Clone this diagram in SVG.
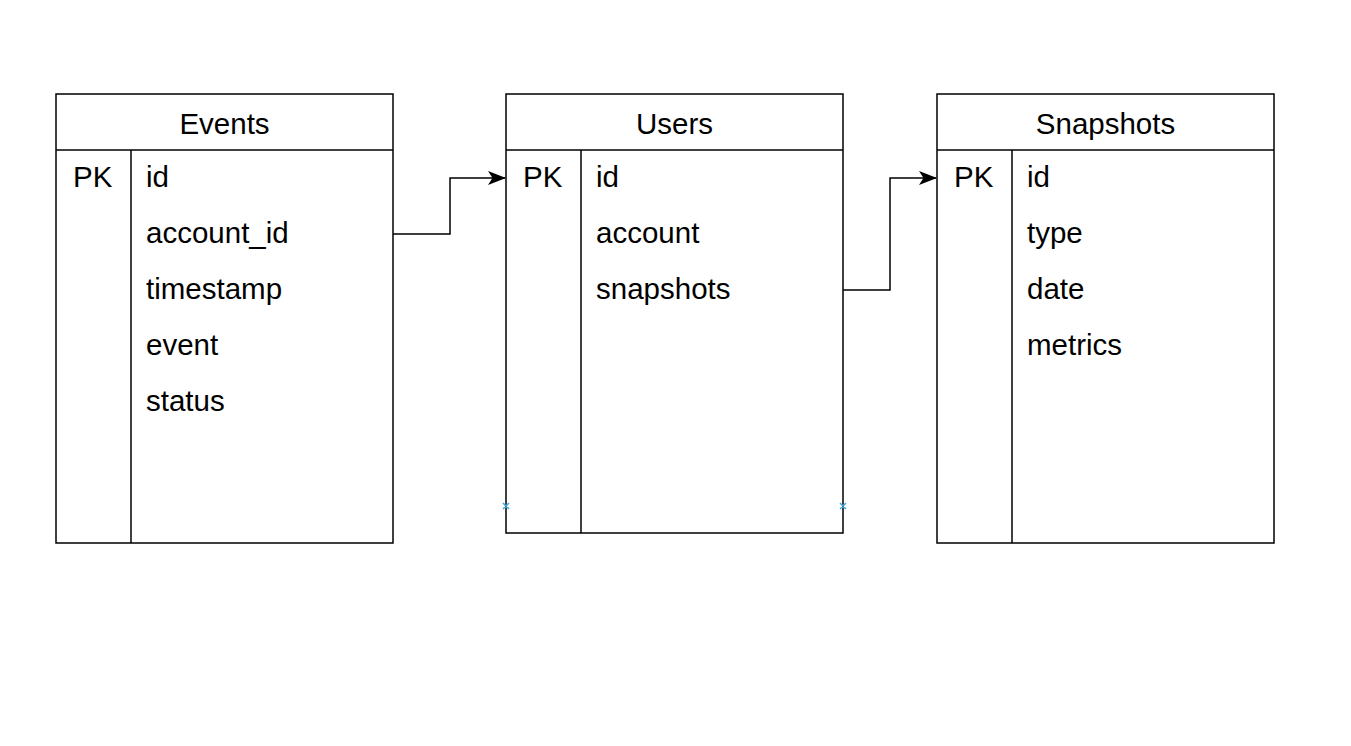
<svg xmlns="http://www.w3.org/2000/svg" width="1351" height="746" viewBox="0 0 1351 746">
<style>
.box{fill:#fff;stroke:#000;stroke-width:1.5}
.ln{stroke:#000;stroke-width:1.5;fill:none}
.t{font-family:"Liberation Sans",Arial,sans-serif;font-size:29.5px;fill:#000}
.h{text-anchor:middle}
.edge{stroke:#000;stroke-width:1.5;fill:none}
.mk{stroke:#3fa9e0;stroke-width:1.5;fill:none}
</style>
<defs>
<marker id="arr" markerWidth="18" markerHeight="14" refX="17" refY="7" orient="auto" markerUnits="userSpaceOnUse" viewBox="0 0 18 14">
<path d="M0,0 L18,7 L0,14 L4.5,7 Z" fill="#000"/>
</marker>
</defs>
<rect width="1351" height="746" fill="#fff"/>
<g id="events">
<rect class="box" x="56" y="94" width="337" height="449"/>
<line class="ln" x1="56" y1="150" x2="393" y2="150"/>
<line class="ln" x1="131" y1="150" x2="131" y2="543"/>
<text class="t h" x="224.5" y="133.5">Events</text>
<text class="t" x="73" y="187">PK</text>
<text class="t" x="146" y="187">id</text>
<text class="t" x="146" y="243">account_id</text>
<text class="t" x="146" y="299">timestamp</text>
<text class="t" x="146" y="355">event</text>
<text class="t" x="146" y="411">status</text>
</g>
<g id="users">
<rect class="box" x="506" y="94" width="337" height="439"/>
<line class="ln" x1="506" y1="150" x2="843" y2="150"/>
<line class="ln" x1="581" y1="150" x2="581" y2="533"/>
<text class="t h" x="674.5" y="133.5">Users</text>
<text class="t" x="523" y="187">PK</text>
<text class="t" x="596" y="187">id</text>
<text class="t" x="596" y="243">account</text>
<text class="t" x="596" y="299">snapshots</text>
<path class="mk" d="M503,503 L509,509 M509,503 L503,509 M840,503 L846,509 M846,503 L840,509"/>
</g>
<g id="snapshots">
<rect class="box" x="937" y="94" width="337" height="449"/>
<line class="ln" x1="937" y1="150" x2="1274" y2="150"/>
<line class="ln" x1="1012" y1="150" x2="1012" y2="543"/>
<text class="t h" x="1105.5" y="133.5">Snapshots</text>
<text class="t" x="954" y="187">PK</text>
<text class="t" x="1027" y="187">id</text>
<text class="t" x="1027" y="243">type</text>
<text class="t" x="1027" y="299">date</text>
<text class="t" x="1027" y="355">metrics</text>
</g>
<g id="connectors">
<path class="edge" d="M393,234 L450,234 L450,178 L505,178" marker-end="url(#arr)"/>
<path class="edge" d="M843,290 L890,290 L890,178 L936,178" marker-end="url(#arr)"/>
</g>
</svg>
